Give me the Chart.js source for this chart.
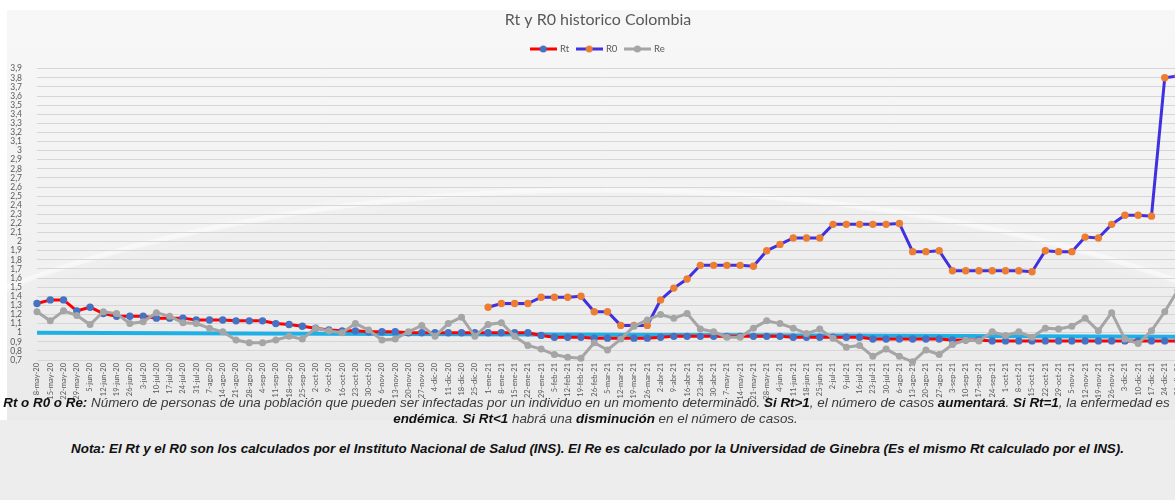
<!DOCTYPE html>
<html lang="es">
<head>
<meta charset="utf-8">
<title>Rt y R0 historico Colombia</title>
<script src="https://cdn.jsdelivr.net/npm/chart.js@4.4.1/dist/chart.umd.min.js"></script>
<style>
  html, body { margin: 0; padding: 0; background: #ededed; overflow: hidden; }
  #marco { position: relative; width: 1175px; height: 500px; overflow: hidden; }
  #lienzo { position: absolute; left: 0; top: 0; }
  .texto {
    position: absolute; width: 1175px; white-space: nowrap; text-align: center;
    font-family: "Liberation Sans", Arial, sans-serif; font-style: italic;
  }
  .t1 { font-size: 13.4px; color: #3a3a3a; }
  .t1 b { color: #111; }
  .t2 { font-size: 13.4px; font-weight: bold; color: #111; }
</style>
</head>
<body>
<div id="marco">
  <canvas id="lienzo" width="1196" height="420"></canvas>
  <div class="texto t1" style="left:-1px; top:395px;"><b>Rt o R0 o Re:</b> Número de personas de una población que pueden ser infectadas por un individuo en un momento determinado. <b>Si Rt&gt;1</b>, el número de casos <b>aumentará</b>. <b>Si Rt=1</b>, la enfermedad es</div>
  <div class="texto t1" style="left:8px; top:411px;"><b>endémica</b>. <b>Si Rt&lt;1</b> habrá una <b>disminución</b> en el número de casos.</div>
  <div class="texto t2" style="left:10px; top:441px;">Nota: El Rt y el R0 son los calculados por el Instituto Nacional de Salud (INS). El Re es calculado por la Universidad de Ginebra (Es el mismo Rt calculado por el INS).</div>
</div>
<script>
// fechas semanales (la última queda cortada por el borde, como en el original)
const fechas = [
    '8-may-20', '15-may-20', '22-may-20', '29-may-20', '5-jun-20', '12-jun-20', '19-jun-20', '26-jun-20',
    '3-jul-20', '10-jul-20', '17-jul-20', '24-jul-20', '31-jul-20', '7-ago-20', '14-ago-20', '21-ago-20',
    '28-ago-20', '4-sep-20', '11-sep-20', '18-sep-20', '25-sep-20', '2-oct-20', '9-oct-20', '16-oct-20',
    '23-oct-20', '30-oct-20', '6-nov-20', '13-nov-20', '20-nov-20', '27-nov-20', '4-dic-20', '11-dic-20',
    '18-dic-20', '25-dic-20',
    '1-ene-21', '8-ene-21', '15-ene-21', '22-ene-21', '29-ene-21', '5-feb-21', '12-feb-21', '19-feb-21',
    '26-feb-21', '5-mar-21', '12-mar-21', '19-mar-21', '26-mar-21', '2-abr-21', '9-abr-21', '16-abr-21',
    '23-abr-21', '30-abr-21', '7-may-21', '14-may-21', '21-may-21', '28-may-21', '4-jun-21', '11-jun-21',
    '18-jun-21', '25-jun-21', '2-jul-21', '9-jul-21', '16-jul-21', '23-jul-21', '30-jul-21', '6-ago-21',
    '13-ago-21', '20-ago-21', '27-ago-21', '3-sep-21', '10-sep-21', '17-sep-21', '24-sep-21', '1-oct-21',
    '8-oct-21', '15-oct-21', '22-oct-21', '29-oct-21', '5-nov-21', '12-nov-21', '19-nov-21', '26-nov-21',
    '3-dic-21', '10-dic-21', '17-dic-21', '24-dic-21', '31-dic-21'
];

const rt = [
    1.32, 1.36, 1.36, 1.24, 1.28, 1.21, 1.18, 1.18, 1.18, 1.16,
    1.16, 1.16, 1.14, 1.14, 1.14, 1.13, 1.13, 1.13, 1.10, 1.09,
    1.07, 1.05, 1.03, 1.02, 1.02, 1.01, 1.01, 1.01, 1.00, 1.00,
    1.00, 1.00, 1.00, 1.00, 1.00, 1.00, 1.00, 1.00, 0.97, 0.95,
    0.95, 0.95, 0.94, 0.94, 0.94, 0.94, 0.94, 0.95, 0.96, 0.96,
    0.96, 0.96, 0.96, 0.96, 0.96, 0.96, 0.96, 0.95, 0.95, 0.95,
    0.95, 0.95, 0.95, 0.93, 0.93, 0.93, 0.93, 0.93, 0.93, 0.92,
    0.92, 0.92, 0.91, 0.91, 0.91, 0.91, 0.91, 0.91, 0.91, 0.91,
    0.91, 0.91, 0.91, 0.91, 0.91, 0.91, 0.91
];

const r0 = [
    null, null, null, null, null, null, null, null, null, null,
    null, null, null, null, null, null, null, null, null, null,
    null, null, null, null, null, null, null, null, null, null,
    null, null, null, null,
    1.28, 1.32, 1.32, 1.32, 1.39, 1.39, 1.39, 1.40, 1.23, 1.23,
    1.08, 1.08, 1.08, 1.36, 1.49, 1.59, 1.74, 1.74, 1.74, 1.74,
    1.73, 1.90, 1.97, 2.04, 2.04, 2.04, 2.19, 2.19, 2.19, 2.19,
    2.19, 2.20, 1.89, 1.89, 1.90, 1.68, 1.68, 1.68, 1.68, 1.68,
    1.68, 1.67, 1.90, 1.89, 1.89, 2.05, 2.04, 2.19, 2.29, 2.29,
    2.28, 3.80, 3.82
];

const re = [
    1.23, 1.13, 1.24, 1.19, 1.09, 1.23, 1.21, 1.10, 1.12, 1.22,
    1.18, 1.11, 1.10, 1.05, 1.01, 0.92, 0.89, 0.89, 0.92, 0.96,
    0.93, 1.05, 1.02, 1.00, 1.10, 1.03, 0.92, 0.93, 1.01, 1.08,
    0.96, 1.10, 1.17, 0.96, 1.09, 1.11, 0.96, 0.86, 0.82, 0.76,
    0.73, 0.72, 0.89, 0.81, 0.93, 1.07, 1.14, 1.20, 1.16, 1.21,
    1.04, 1.01, 0.95, 0.95, 1.05, 1.13, 1.10, 1.05, 0.99, 1.04,
    0.94, 0.84, 0.86, 0.74, 0.82, 0.74, 0.68, 0.81, 0.76, 0.87,
    0.92, 0.91, 1.01, 0.97, 1.01, 0.95, 1.05, 1.04, 1.07, 1.16,
    1.02, 1.22, 0.93, 0.88, 1.02, 1.23, 1.47
];

// línea celeste de referencia (trazada a mano en el original, algo inclinada)
const umbralInicio = 1.0;
const umbralFin = 0.955;

const ejeYMin = 0.7;
const ejeYMax = 3.9;
const ejeYPaso = 0.1;

const umbral = fechas.map((f, i) => i === 0 ? umbralInicio : (i === fechas.length - 1 ? umbralFin : null));

const colores = {
    rtLinea: '#ff0000', rtPunto: '#4472c4',
    r0Linea: '#4030e0', r0Punto: '#ed7d31',
    reLinea: '#a5a5a5', rePunto: '#a5a5a5',
    umbral: '#1fb0e6', texto: '#595959'
};

function icono(linea, punto) {
    const c = document.createElement('canvas');
    c.width = 27;
    c.height = 8;
    const g = c.getContext('2d');
    g.strokeStyle = linea;
    g.lineWidth = 3;
    g.beginPath();
    g.moveTo(0, 4);
    g.lineTo(27, 4);
    g.stroke();
    g.fillStyle = punto;
    g.beginPath();
    g.arc(13.5, 4, 3.5, 0, Math.PI * 2);
    g.fill();
    return c;
}

const iconos = [
    icono(colores.rtLinea, colores.rtPunto),
    icono(colores.r0Linea, colores.r0Punto),
    icono(colores.reLinea, colores.rePunto)
];

// fondo gris con el brillo curvo del original
const fondo = {
    id: 'fondo',
    beforeDraw(chart) {
        const {ctx, width, height} = chart;
        ctx.save();
        ctx.fillStyle = '#ffffff';
        ctx.fillRect(0, 0, width, height);
        const g = ctx.createLinearGradient(0, 10, 0, height);
        g.addColorStop(0, '#f7f7f7');
        g.addColorStop(1, '#ededed');
        ctx.fillStyle = g;
        ctx.fillRect(7, 10, width - 7, height - 10);
        ctx.beginPath();
        ctx.rect(7, 10, width - 7, height - 10);
        ctx.clip();
        ctx.beginPath();
        ctx.ellipse(600, 582, 900, 392, 0, 0, Math.PI * 2);
        ctx.fillStyle = 'rgba(0,0,0,0.012)';
        ctx.fill();
        ctx.strokeStyle = 'rgba(255,255,255,0.45)';
        ctx.lineWidth = 5;
        ctx.shadowColor = '#ffffff';
        ctx.shadowBlur = 14;
        ctx.stroke();
        ctx.restore();
    }
};

// pequeño espacio entre la leyenda y el área del gráfico
const separador = {
    id: 'separador',
    start(chart) {
        if (!Chart.layouts) return;
        Chart.layouts.addBox(chart, {
            position: 'top', weight: 0, fullSize: true, options: {},
            left: 0, top: 0, right: 0, bottom: 0, width: 0, height: 0,
            isHorizontal() { return true; },
            update(maxWidth) { this.width = maxWidth; this.height = 5; },
            draw() {}
        });
    }
};

// las etiquetas del eje Y salen un poco del margen izquierdo: que no se recorten
const etiquetasY = {
    id: 'etiquetasY',
    afterLayout(chart) {
        chart.scales.y.left = 0;
    }
};

const fuente = 'Lato, "Open Sans", sans-serif';

new Chart(document.getElementById('lienzo'), {
    type: 'line',
    data: {
        labels: fechas,
        datasets: [
            {
                label: 'Rt', data: rt, order: 2, clip: 8,
                borderColor: colores.rtLinea, borderWidth: 3,
                pointBackgroundColor: colores.rtPunto, pointBorderWidth: 0, pointRadius: 3.7
            },
            {
                label: 'R0', data: r0, order: 1, clip: 8,
                borderColor: colores.r0Linea, borderWidth: 3,
                pointBackgroundColor: colores.r0Punto, pointBorderWidth: 0, pointRadius: 3.7
            },
            {
                label: 'Re', data: re, order: 0, clip: 8,
                borderColor: colores.reLinea, borderWidth: 3,
                pointBackgroundColor: colores.rePunto, pointBorderWidth: 0, pointRadius: 3.5
            },
            {
                label: 'umbral', data: umbral, order: 3, clip: 8, spanGaps: true,
                borderColor: colores.umbral, borderWidth: 4, pointRadius: 0
            }
        ]
    },
    options: {
        responsive: false,
        animation: false,
        layout: { padding: { top: 10, right: 18, bottom: 0, left: 18 } },
        plugins: {
            title: {
                display: true,
                text: 'Rt y R0 historico Colombia',
                color: colores.texto,
                font: { family: fuente, size: 16, weight: 'normal' },
                padding: { top: 0, bottom: 7 }
            },
            legend: {
                labels: {
                    usePointStyle: true,
                    pointStyleWidth: 24,
                    padding: 8,
                    color: colores.texto,
                    font: { family: fuente, size: 9.5 },
                    filter: item => item.datasetIndex < 3,
                    sort: (a, b) => a.datasetIndex - b.datasetIndex,
                    generateLabels(chart) {
                        const items = Chart.defaults.plugins.legend.labels.generateLabels(chart);
                        items.forEach(it => {
                            if (it.datasetIndex < 3) it.pointStyle = iconos[it.datasetIndex];
                        });
                        return items;
                    }
                }
            },
            tooltip: { enabled: false }
        },
        scales: {
            x: {
                grid: { display: false, drawTicks: false },
                border: { display: false },
                ticks: {
                    autoSkip: false, maxRotation: 90, minRotation: 90, padding: 3,
                    color: colores.texto,
                    font: { family: fuente, size: 7.5 }
                },
                afterFit(scale) { scale.height = 60; }
            },
            y: {
                min: ejeYMin,
                max: ejeYMax,
                grid: { color: '#d6d6d6', drawTicks: false },
                border: { display: false },
                ticks: {
                    stepSize: ejeYPaso,
                    autoSkip: false,
                    padding: 15,
                    color: colores.texto,
                    font: { family: fuente, size: 8.5 },
                    callback: v => String(Math.round(v * 10) / 10).replace('.', ',')
                },
                afterFit(scale) { scale.width = 19; }
            }
        }
    },
    plugins: [fondo, separador, etiquetasY]
});
</script>
</body>
</html>
